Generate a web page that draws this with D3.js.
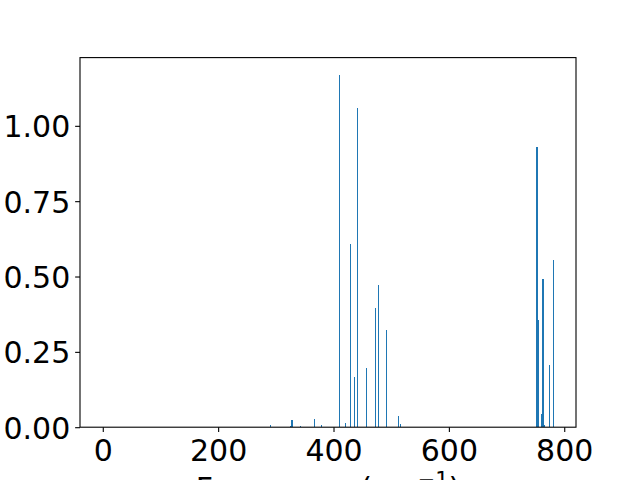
<!DOCTYPE html>
<html><head><meta charset="utf-8">
<script src="https://cdn.jsdelivr.net/npm/d3@7"></script>
<style>body{margin:0;background:#fff}svg{display:block}text{font-family:"DejaVu Sans",sans-serif;fill:#000}</style>
</head><body><svg id="c" width="640" height="480"></svg>
<script>
const frequencies = [0, 290.4, 325.9, 328.2, 343.3, 367.0, 379.0, 410.4, 420.9, 429.6, 436.5, 441.2, 457.4, 473.0, 478.3, 492.2, 513.0, 516.5, 752.9, 754.8, 760.3, 763.3, 765.2, 775.1, 780.9];
const intensities = [0, 0.007, 0.003, 0.024, 0.003, 0.027, 0.008, 1.168, 0.015, 0.608, 0.167, 1.058, 0.197, 0.397, 0.472, 0.323, 0.0375, 0.010, 0.930, 0.356, 0.044, 0.492, 0.007, 0.207, 0.555];
const xTicks = [0, 200, 400, 600, 800];
const yTicks = [0, 0.25, 0.5, 0.75, 1.0];
const xLabel = "Frequency (cm";
const xLabelSup = "\u22121";

const W = 640, H = 480;
const L = 80, R = 576, T = 57.6, B = 427.2;
const barW = 0.8;
const fmin = d3.min(frequencies) - barW/2, fmax = d3.max(frequencies) + barW/2;
const span = fmax - fmin;
const x = d3.scaleLinear().domain([fmin - 0.05*span, fmax + 0.05*span]).range([L, R]);
const ymax = d3.max(intensities) * 1.05;
const y = d3.scaleLinear().domain([0, ymax]).range([B, T]);

const svg = d3.select("#c");
const data = frequencies.map((f, i) => ({f, v: intensities[i]}));
const g = svg.append("g");
g.selectAll("rect").data(data).join("rect")
  .attr("x", d => Math.round(x(d.f) - 0.6))
  .attr("width", d => Math.max(1, Math.round(x(d.f) + 0.6) - Math.round(x(d.f) - 0.6)))
  .attr("y", d => y(d.v))
  .attr("height", d => y(0) - y(d.v))
  .attr("fill", "#1f77b4")
  .attr("shape-rendering", "crispEdges");

const fs = 30;
const xAxis = d3.axisBottom(x).tickValues(xTicks).tickSize(4.86).tickPadding(4.86).tickFormat(d3.format("d"));
const xa = svg.append("g").attr("transform", `translate(0,${B})`).call(xAxis);
const yAxis = d3.axisLeft(y).tickValues(yTicks).tickSize(4.86).tickPadding(4.86).tickFormat(d3.format(".2f"));
const ya = svg.append("g").attr("transform", `translate(${L},0)`).call(yAxis);
[xa, ya].forEach(a => {
  a.select(".domain").remove();
  a.selectAll(".tick line").attr("stroke", "#000").attr("stroke-width", 1.1);
  a.selectAll(".tick text").attr("font-size", fs).attr("font-family", "DejaVu Sans").attr("fill", "#000");
});
xa.selectAll(".tick text").attr("dy", null).attr("y", 34);
ya.selectAll(".tick text").attr("dy", null).attr("y", 11);

svg.append("rect").attr("x", L).attr("y", T).attr("width", R - L).attr("height", B - T)
  .attr("fill", "none").attr("stroke", "#000").attr("stroke-width", 1.1);

const lab = svg.append("text").attr("x", (L + R) / 2).attr("y", 499).attr("text-anchor", "middle").attr("font-size", fs);
lab.append("tspan").text(xLabel);
lab.append("tspan").attr("font-size", fs * 0.7).attr("dy", -12).text(xLabelSup);
lab.append("tspan").attr("dy", 12).text(")");
</script></body></html>
